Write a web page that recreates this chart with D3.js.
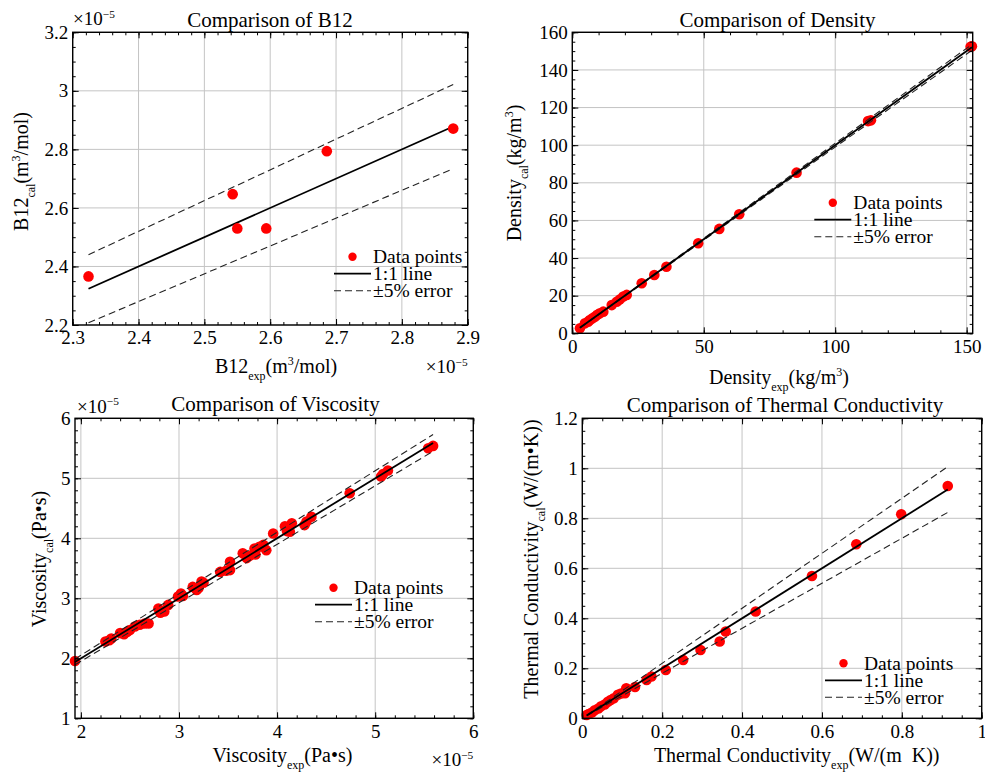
<!DOCTYPE html>
<html>
<head>
<meta charset="utf-8">
<script src="https://cdn.jsdelivr.net/npm/d3@7"></script>
<style>
  body { margin: 0; background: #fff; }
  text { font-family: "Liberation Serif", "Times New Roman", serif; fill: #000; }
  .tick text { font-size: 19px; }
  .tick line { stroke: #000; }
</style>
</head>
<body>
<div id="chart"></div>
<script>
// B12 and viscosity values are the mantissa (x 10^-5)
var b12Exp = [2.324, 2.543, 2.550, 2.594, 2.686, 2.878];
var b12Cal = [2.366, 2.647, 2.530, 2.530, 2.794, 2.871];

var densExp = [2.9, 4.8, 6.0, 6.7, 7.7, 8.6, 9.5, 10.5, 11.8, 15.0, 16.9, 18.0, 19.4, 20.7, 26.4, 31.2, 35.8, 47.9, 55.9, 63.5, 85.3, 112.5, 113.6, 151.5, 152.0];
var densCal = [2.7, 5.3, 6.2, 7.1, 8.0, 8.8, 9.8, 10.6, 11.5, 15.0, 16.8, 17.9, 19.5, 20.4, 26.6, 31.0, 35.4, 47.9, 55.5, 63.3, 85.4, 112.8, 113.2, 152.3, 152.6];

var viscExp = [1.94, 2.25, 2.29, 2.31, 2.40, 2.44, 2.47, 2.50, 2.55, 2.60, 2.65, 2.69, 2.79, 2.81, 2.85, 2.89, 2.99, 3.02, 3.04, 3.14, 3.18, 3.20, 3.23, 3.25, 3.42, 3.48, 3.52, 3.52, 3.65, 3.69, 3.72, 3.77, 3.78, 3.82, 3.86, 3.89, 3.96, 4.08, 4.10, 4.13, 4.15, 4.28, 4.30, 4.35, 4.74, 5.06, 5.08, 5.13, 5.54, 5.59];
var viscCal = [1.955, 2.28, 2.30, 2.33, 2.42, 2.40, 2.44, 2.47, 2.53, 2.56, 2.58, 2.58, 2.83, 2.76, 2.78, 2.89, 3.03, 3.08, 3.04, 3.19, 3.14, 3.17, 3.28, 3.26, 3.44, 3.46, 3.61, 3.47, 3.75, 3.67, 3.71, 3.83, 3.73, 3.86, 3.89, 3.80, 4.08, 4.20, 4.12, 4.11, 4.25, 4.22, 4.28, 4.36, 4.75, 5.03, 5.07, 5.13, 5.50, 5.54];

var thermExp = [0.011, 0.016, 0.024, 0.031, 0.040, 0.047, 0.056, 0.064, 0.071, 0.079, 0.089, 0.097, 0.107, 0.110, 0.132, 0.161, 0.173, 0.209, 0.2525, 0.296, 0.344, 0.359, 0.434, 0.575, 0.686, 0.7985, 0.915];
var thermCal = [0.013, 0.017, 0.023, 0.032, 0.039, 0.048, 0.055, 0.066, 0.073, 0.080, 0.094, 0.099, 0.100, 0.120, 0.125, 0.153, 0.167, 0.193, 0.233, 0.273, 0.307, 0.347, 0.427, 0.569, 0.696, 0.816, 0.929];

var b12XTicks = [2.3, 2.4, 2.5, 2.6, 2.7, 2.8, 2.9];
var b12YTicks = [2.2, 2.4, 2.6, 2.8, 3, 3.2];
var densXTicks = [0, 50, 100, 150];
var densYTicks = [0, 20, 40, 60, 80, 100, 120, 140, 160];
var viscXTicks = [2, 3, 4, 5, 6];
var viscYTicks = [1, 2, 3, 4, 5, 6];
var thermXTicks = [0, 0.2, 0.4, 0.6, 0.8, 1];
var thermYTicks = [0, 0.2, 0.4, 0.6, 0.8, 1, 1.2];

var legendLabels = ["Data points", "1:1 line", "\u00b15% error"];

var svg = d3.select("#chart")
  .append("svg")
  .attr("width", 985)
  .attr("height", 774);

var panels = [
  {
    title: "Comparison of B12", exp: b12Exp, cal: b12Cal, band: 0.05,
    xDom: [2.3, 2.9], yDom: [2.2, 3.2], xTicks: b12XTicks, yTicks: b12YTicks, xMinor: 0.02, yMinor: 0.05,
    box: {l: 72.7, t: 32.3, r: 467.7, b: 325},
    xLabel: [["B12", ""], ["exp", "sub"], ["(m", ""], ["3", "sup"], ["/mol)", ""]],
    yLabel: [["B12", ""], ["cal", "sub"], ["(m", ""], ["3", "sup"], ["/mol)", ""]],
    xLabPos: [276, 373], yLabPos: [28, 171.5], titlePos: [270, 27],
    expTL: [73, 25], expBR: [467.7, 373], legend: [334, 256.7], dotsOnTop: true
  },
  {
    title: "Comparison of Density", exp: densExp, cal: densCal, band: 0.01,
    xDom: [0, 152.3], yDom: [0, 160], xTicks: densXTicks, yTicks: densYTicks, xMinor: 10, yMinor: 5,
    box: {l: 572.3, t: 32.3, r: 972.7, b: 333.3},
    xLabel: [["Density", ""], ["exp", "sub"], ["(kg/m", ""], ["3", "sup"], [")", ""]],
    yLabel: [["Density", ""], ["cal", "sub"], ["(kg/m", ""], ["3", "sup"], [")", ""]],
    xLabPos: [779, 384], yLabPos: [521, 173], titlePos: [777.5, 27],
    legend: [814.3, 202.7]
  },
  {
    title: "Comparison of Viscosity", exp: viscExp, cal: viscCal, band: 0.025,
    xDom: [1.94, 6], yDom: [1, 6], xTicks: viscXTicks, yTicks: viscYTicks, xMinor: 0.2, yMinor: 0.2,
    box: {l: 75, t: 418.3, r: 473.3, b: 718.3},
    xLabel: [["Viscosity", ""], ["exp", "sub"], ["(Pa\u2022s)", ""]],
    yLabel: [["Viscosity", ""], ["cal", "sub"], ["(Pa\u2022s)", ""]],
    xLabPos: [282.5, 762], yLabPos: [46, 559], titlePos: [275.5, 411],
    expTL: [77, 412.5], expBR: [473.3, 766], legend: [315, 587.7]
  },
  {
    title: "Comparison of Thermal Conductivity", exp: thermExp, cal: thermCal, band: 0.10,
    xDom: [0, 1], yDom: [0, 1.2], xTicks: thermXTicks, yTicks: thermYTicks, xMinor: 0.05, yMinor: 0.05,
    box: {l: 582.3, t: 418.3, r: 981.7, b: 718.3},
    xLabel: [["Thermal Conductivity", ""], ["exp", "sub"], ["(W/(m\u2002K))", ""]],
    yLabel: [["Thermal Conductivity", ""], ["cal", "sub"], ["(W/(m\u2022K))", ""]],
    xLabPos: [796.7, 762], yLabPos: [538, 559], titlePos: [785, 411.5],
    legend: [825, 663.3]
  }
];

// text with sub/superscripts
function richText(sel, segs, size) {
  var shift = 0;
  segs.forEach(function(s) {
    var target = s[1] == "sub" ? size * 0.35 : (s[1] == "sup" ? -size * 0.38 : 0);
    var t = sel.append("tspan").text(s[0]).attr("dy", target - shift);
    if (s[1]) t.style("font-size", (size * 0.6) + "px");
    shift = target;
  });
}

function minorVals(dom, step) {
  var out = [];
  var start = Math.ceil(dom[0] / step - 1e-9);
  for (var i = start; i * step <= dom[1] + 1e-9; i++) out.push(+(i * step).toFixed(6));
  return out;
}

var fmt = function(d) { return String(+d.toFixed(6)); };

panels.forEach(function(p) {
  var b = p.box;
  var x = d3.scaleLinear().domain(p.xDom).range([b.l, b.r]);
  var y = d3.scaleLinear().domain(p.yDom).range([b.b, b.t]);
  var g = svg.append("g");

  // grid
  g.append("g").selectAll("line").data(p.xTicks).enter().append("line")
    .attr("x1", d => x(d)).attr("x2", d => x(d)).attr("y1", b.t).attr("y2", b.b)
    .attr("stroke", "#c4c4c4").attr("stroke-width", 1);
  g.append("g").selectAll("line").data(p.yTicks).enter().append("line")
    .attr("y1", d => y(d)).attr("y2", d => y(d)).attr("x1", b.l).attr("x2", b.r)
    .attr("stroke", "#c4c4c4").attr("stroke-width", 1);

  var lo = d3.min(p.exp), hi = d3.max(p.exp);

  function drawLines() {
    [1 + p.band, 1 - p.band].forEach(function(f) {
      g.append("line")
        .attr("x1", x(lo)).attr("y1", y(lo * f)).attr("x2", x(hi)).attr("y2", y(hi * f))
        .attr("stroke", "#222").attr("stroke-width", 1.1).attr("stroke-dasharray", "7,4");
    });
    g.append("line")
      .attr("x1", x(lo)).attr("y1", y(lo)).attr("x2", x(hi)).attr("y2", y(hi))
      .attr("stroke", "#000").attr("stroke-width", 1.8);
  }
  function drawDots() {
    g.append("g").selectAll("circle").data(p.exp).enter().append("circle")
      .attr("cx", d => x(d))
      .attr("cy", (d, i) => y(p.cal[i]))
      .attr("r", 5.3)
      .attr("fill", "#ff0000");
  }
  if (p.dotsOnTop) { drawLines(); drawDots(); } else { drawDots(); drawLines(); }

  // frame
  g.append("rect")
    .attr("x", b.l).attr("y", b.t).attr("width", b.r - b.l).attr("height", b.b - b.t)
    .attr("fill", "none").attr("stroke", "#000").attr("stroke-width", 1.4);

  // axes, ticks pointing inward on all four sides
  var xm = minorVals(p.xDom, p.xMinor), ym = minorVals(p.yDom, p.yMinor);
  function ax(axis, tr, vals, size, labels) {
    var a = g.append("g").attr("transform", tr)
      .call(axis.tickValues(vals).tickSize(size).tickSizeOuter(0).tickPadding(6)
        .tickFormat(labels ? fmt : ""));
    a.attr("font-size", null).attr("font-family", null);
    a.select(".domain").remove();
    return a;
  }
  ax(d3.axisBottom(x), `translate(0,${b.b})`, xm, -3, false);
  ax(d3.axisTop(x), `translate(0,${b.t})`, xm, -3, false);
  ax(d3.axisLeft(y), `translate(${b.l},0)`, ym, -3, false);
  ax(d3.axisRight(y), `translate(${b.r},0)`, ym, -3, false);
  ax(d3.axisBottom(x), `translate(0,${b.b})`, p.xTicks, -6, true);
  ax(d3.axisTop(x), `translate(0,${b.t})`, p.xTicks, -6, false);
  ax(d3.axisLeft(y), `translate(${b.l},0)`, p.yTicks, -6, true).selectAll("text").attr("x", -4.5);
  ax(d3.axisRight(y), `translate(${b.r},0)`, p.yTicks, -6, false);

  // title and labels
  g.append("text").attr("x", p.titlePos[0]).attr("y", p.titlePos[1])
    .attr("text-anchor", "middle").style("font-size", "21px").text(p.title);

  richText(g.append("text").attr("x", p.xLabPos[0]).attr("y", p.xLabPos[1])
    .attr("text-anchor", "middle").style("font-size", "20px").style("white-space", "pre"), p.xLabel, 20);

  richText(g.append("text")
    .attr("transform", `translate(${p.yLabPos[0]},${p.yLabPos[1]}) rotate(-90)`)
    .attr("text-anchor", "middle").style("font-size", "20px"), p.yLabel, 20);

  if (p.expTL) {
    richText(g.append("text").attr("x", p.expTL[0]).attr("y", p.expTL[1]).style("font-size", "19px"),
      [["\u00d710", ""], ["\u22125", "sup"]], 19);
    richText(g.append("text").attr("x", p.expBR[0]).attr("y", p.expBR[1])
      .attr("text-anchor", "end").style("font-size", "19px"),
      [["\u00d710", ""], ["\u22125", "sup"]], 19);
  }

  // legend
  var lx = p.legend[0], ly = p.legend[1], gap = 17;
  var leg = g.append("g");
  leg.append("circle").attr("cx", lx + 18.5).attr("cy", ly).attr("r", 4.2).attr("fill", "#ff0000");
  leg.append("line").attr("x1", lx).attr("x2", lx + 37).attr("y1", ly + gap).attr("y2", ly + gap)
    .attr("stroke", "#000").attr("stroke-width", 1.8);
  leg.append("line").attr("x1", lx).attr("x2", lx + 37).attr("y1", ly + 2 * gap).attr("y2", ly + 2 * gap)
    .attr("stroke", "#222").attr("stroke-width", 1.1).attr("stroke-dasharray", "7,4");
  leg.selectAll("text.leg").data(legendLabels).enter().append("text")
    .attr("class", "leg")
    .attr("x", lx + 39)
    .attr("y", (d, i) => ly + i * gap + 6.5)
    .style("font-size", "19.5px")
    .text(d => d);
});
</script>
</body>
</html>
